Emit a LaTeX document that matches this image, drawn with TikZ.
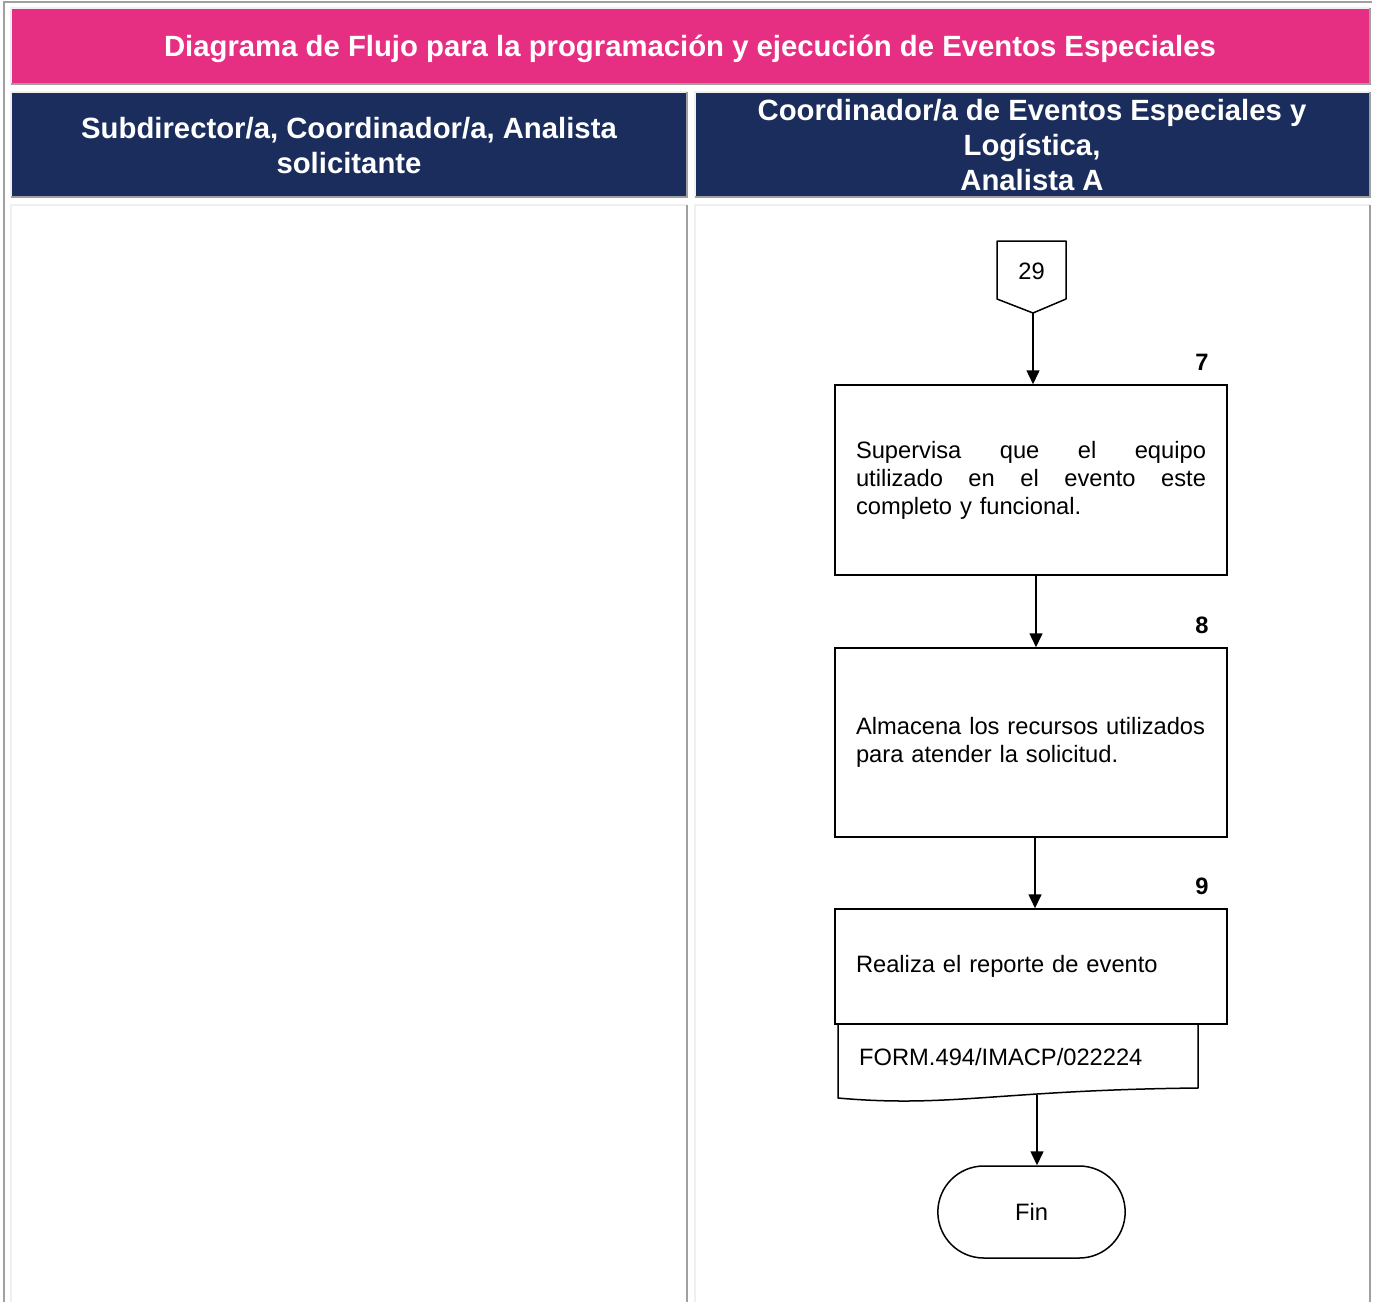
\documentclass[tikz,border=0pt]{standalone}
\usepackage{fontspec}
\setmainfont{Liberation Sans}
\usetikzlibrary{arrows.meta,shapes.misc}
\definecolor{pinkT}{HTML}{E62E83}
\definecolor{navyT}{HTML}{1B2D5C}
\definecolor{lightB}{HTML}{EFEFEF}
\definecolor{darkB}{HTML}{A0A0A0}
\newcommand{\tblcell}[5]{%
  \fill[#5] (#1,#2) rectangle (#3,#4);
  \draw[lightB,line width=2pt] (#1,#4) -- (#1,#2) -- (#3,#2);
  \draw[darkB,line width=2pt] (#1,#4) -- (#3,#4) -- (#3,#2);
}
\begin{document}
\begin{tikzpicture}[x=1pt,y=-1pt,
  titletxt/.style={text=white,font=\bfseries\fontsize{29.3}{33}\selectfont,align=center},
  hdrtxt/.style={text=white,font=\bfseries\fontsize{29.3}{35}\selectfont,align=center},
  procbox/.style={draw,line width=1.5pt,minimum width=392pt,text width=350pt,align=left,inner sep=0pt,font=\fontsize{23.7}{28}\selectfont},
  numtxt/.style={font=\bfseries\fontsize{23.7}{26}\selectfont},
  plaintxt/.style={font=\fontsize{23.7}{26}\selectfont,inner sep=0pt},
  arr/.style={line width=1.5pt,-{Triangle[length=14pt,width=13pt]}},
  shapeline/.style={line width=1.5pt,line join=round}]
\useasboundingbox (0,0) rectangle (1375,1301);
\fill[white] (0,0) rectangle (1375,1301);
% outer table border
\draw[darkB,line width=2pt] (4,1310) -- (4,2) -- (1372,2);
% cells
\tblcell{11}{8}{1370}{84}{pinkT}
\tblcell{11}{92}{687}{197}{navyT}
\tblcell{695}{92}{1370}{197}{navyT}
\tblcell{11}{205}{687}{1312}{white}
\tblcell{695}{205}{1370}{1312}{white}
% header texts
\node[titletxt] (title) at (690,49) {Diagrama de Flujo para la programación y ejecución de Eventos Especiales};
\node[hdrtxt] (hdrL) at (349,146) {Subdirector/a, Coordinador/a, Analista\\solicitante};
\node[hdrtxt] (hdrR) at (1032,145.5) {Coordinador/a de Eventos Especiales y\\Logística,\\Analista A};
% off-page connector 29
\draw[shapeline] (997,241) -- (1066,241) -- (1066,299) -- (1033,313) -- (997,299) -- cycle;
\node[plaintxt] (conn29) at (1031.5,271) {29};
\coordinate (c29tip) at (1033,313);
% process boxes
\node[procbox,minimum height=190pt] (s7) at (1031,480) {%
Supervisa\hfill que\hfill el\hfill equipo\\
utilizado\hfill en\hfill el\hfill evento\hfill este\\
completo y funcional.};
\node[numtxt] (n7) at (1202,362) {7};
\node[procbox,minimum height=189pt] (s8) at (1031,742.5) {%
\mbox{Almacena los recursos utilizados}\\
para atender la solicitud.};
\node[numtxt] (n8) at (1202,625) {8};
\node[procbox,minimum height=115pt] (s9) at (1031,966.5) {Realiza el reporte de evento};
\node[numtxt] (n9) at (1202,886) {9};
% document
\draw[shapeline,fill=white] (838,1024) -- (1198,1024) -- (1198,1088)
  .. controls (1000,1090) and (950,1108) .. (838,1098) -- cycle;
\node[plaintxt,anchor=west] (doc) at (859,1057) {FORM.494/IMACP/022224};
\coordinate (docout) at (1037,1095);
% terminal
\node[rounded rectangle,draw,line width=1.5pt,minimum width=194pt,minimum height=92pt,font=\fontsize{23.7}{26}\selectfont] (fin) at (1031.5,1212) {Fin};
% connectors
\draw[arr] (c29tip) -- (c29tip |- s7.north);
\draw[arr] ([xshift=5pt]s7.south) -- ([xshift=5pt]s8.north);
\draw[arr] ([xshift=4pt]s8.south) -- ([xshift=4pt]s9.north);
\draw[arr] (docout) -- (docout |- fin.north);
\end{tikzpicture}
\end{document}
